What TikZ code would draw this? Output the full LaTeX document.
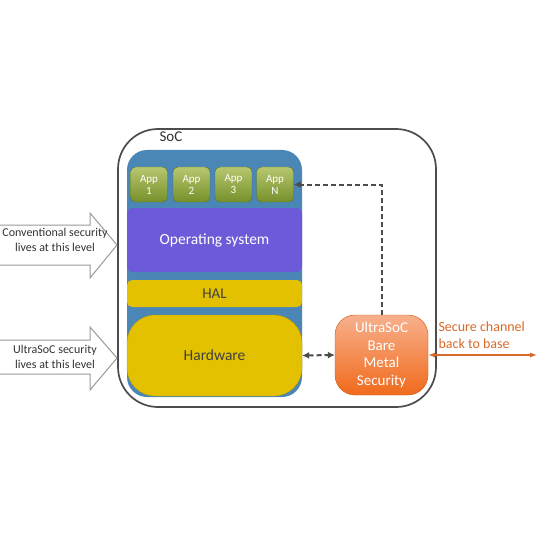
\documentclass[tikz,border=0pt]{standalone}
\usepackage{fontspec}
\setmainfont{Carlito}
\usetikzlibrary{arrows.meta}
\definecolor{stackblue}{HTML}{4A86B6}
\definecolor{ospurple}{HTML}{6C5AD8}
\definecolor{halyellow}{HTML}{E3C100}
\definecolor{apptop}{HTML}{B7C770}
\definecolor{appbot}{HTML}{76902A}
\definecolor{bmtop}{HTML}{F8B08C}
\definecolor{bmbot}{HTML}{F06A1C}
\definecolor{chanorange}{HTML}{D8692A}
\tikzset{
  layer/.style={minimum width=175pt, text=white, inner sep=0pt},
  app/.style={rounded corners=5pt, minimum width=37pt, minimum height=35pt, inner sep=0pt,
    top color=apptop, bottom color=appbot, draw=appbot!80!black, text=white,
    align=center, font=\fontsize{11}{12}\selectfont},
  blockarrow/.style={draw=gray!80, fill=white, line width=1pt},
  sigline/.style={dashed, dash pattern=on 5pt off 3pt, black!70, line width=2pt}
}
\begin{document}
\begin{tikzpicture}[x=1pt,y=-1pt]
\useasboundingbox (0,0) rectangle (540,540);
\fill[white] (0,0) rectangle (540,540);
\node[draw=black!70, line width=1.7pt, rounded corners=40pt, minimum width=318pt, minimum height=278pt] (soc) at (277,268){};
\node[font=\fontsize{15}{17}\selectfont, text=black!80] (soclabel) at (171,137){SoC};
\node[fill=stackblue, rounded corners=20pt, minimum width=175pt, minimum height=247pt] (stack) at (214.5,273.5){};
\node[app] (app1) at (149,184.5){App\\1};
\node[app] (app2) at (191.5,184.5){App\\2};
\node[app] (app3) at (233.5,184.5){App\\3};
\node[app] (appN) at (275,184.5){App\\N};
\node[layer, fill=ospurple, rounded corners=6pt, minimum height=64pt, font=\fontsize{15.5}{18}\selectfont] (os) at (214.5,240){Operating system};
\node[layer, fill=halyellow, rounded corners=5pt, minimum height=27pt, text=black!75, font=\fontsize{15}{17}\selectfont] (hal) at (214.5,293.5){HAL};
\node[layer, fill=halyellow, draw=halyellow!80!black, rounded corners=28pt, minimum height=81pt, text=black!75, font=\fontsize{15.5}{18}\selectfont] (hw) at (214.5,355.5){Hardware};
\node[top color=bmtop, bottom color=bmbot, draw=bmbot!85!black, rounded corners=20pt, minimum width=93pt, minimum height=80pt, text=white, align=center, font=\fontsize{15}{17.5}\selectfont] (bare) at (381.5,355){UltraSoC\\Bare\\Metal\\Security};
\draw[sigline, -{Latex[length=7pt,width=7pt]}] (bare.north) |- (appN.east);
\draw[sigline, {Latex[length=7pt,width=7pt]}-{Latex[length=7pt,width=7pt]}] (hw.east) -- (bare.west);
\coordinate (base) at (537,355);
\draw[chanorange, line width=2pt, {Latex[length=7pt]}-{Latex[length=7pt]}] (bare.east) -- (base);
\node[text=chanorange, anchor=west, align=left, font=\fontsize{14}{17}\selectfont] (chan) at (435,335){Secure channel\\back to base};
\draw[blockarrow] (-2,225) -- (90,225) -- (90,213) -- (117,245) -- (90,278) -- (90,265) -- (-2,265);
\node[align=center, font=\fontsize{12}{14.5}\selectfont, text=black!80] (conv) at (55,240){Conventional security\\lives at this level};
\draw[blockarrow] (-2,340) -- (90,340) -- (90,327) -- (117,358) -- (90,390) -- (90,374) -- (-2,374);
\node[align=center, font=\fontsize{12}{14.5}\selectfont, text=black!80] (ultra) at (55,357){UltraSoC security\\lives at this level};
\end{tikzpicture}
\end{document}
